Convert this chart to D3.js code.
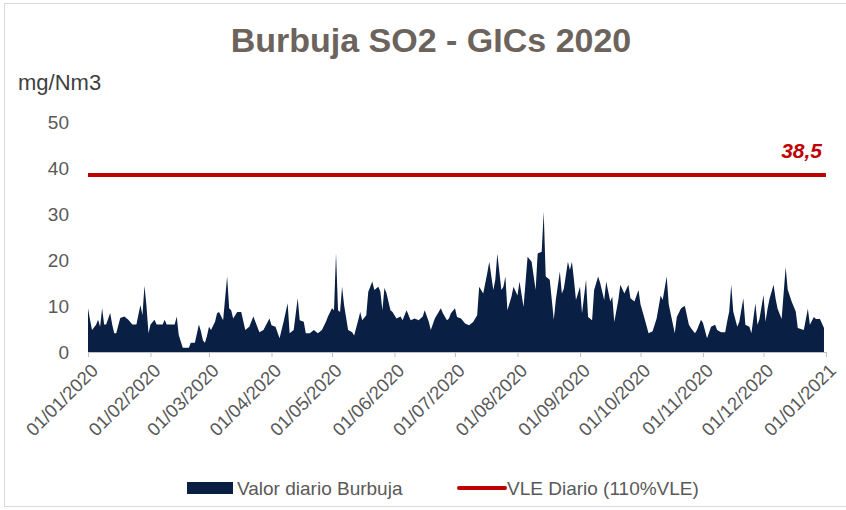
<!DOCTYPE html>
<html>
<head>
<meta charset="utf-8">
<script src="https://cdn.jsdelivr.net/npm/d3@7"></script>
<style>
  body { margin: 0; background: #fff; }
  svg { font-family: "Liberation Sans", Arial, sans-serif; }
</style>
</head>
<body>
<svg id="chart" width="846" height="510"></svg>
<script>
// dias desde el 01/01/2020 y valor diario de la burbuja (mg/Nm3)
const dias = [0,1,2,4,5,6,7,8,9,11,12,13,14,16,18,20,22,24,26,27,28,29,30,31,33,34,37,38,39,43,44,45,47,50,51,53,55,56,57,58,59,60,61,63,64,65,67,69,70,71,72,74,76,78,80,82,83,85,87,90,91,93,95,97,99,100,102,104,105,107,108,110,112,114,116,118,119,121,122,123,124,125,126,127,129,131,132,134,135,136,138,139,141,142,144,145,146,147,148,150,151,153,155,156,158,160,162,164,166,167,169,170,172,175,176,178,179,180,182,183,185,187,189,191,193,194,196,198,199,201,202,203,205,206,207,208,210,211,213,214,216,218,220,222,223,225,226,227,229,231,232,234,235,236,238,239,240,241,242,244,245,247,248,250,251,253,254,256,257,259,260,261,263,264,266,268,269,271,273,274,276,278,280,282,284,285,287,288,291,292,294,295,296,298,299,301,302,304,305,307,309,311,312,314,316,317,318,319,320,322,323,325,326,328,329,331,332,333,335,336,337,338,340,341,342,344,346,347,349,351,352,355,357,358,360,361,363,365];
const valores = [9.5,7.0,4.8,5.9,7.0,5.5,9.5,6.0,6.0,8.5,6.0,4.1,4.1,7.4,7.7,7.0,6.0,6.0,10.2,8.0,14.4,10.0,4.1,6.0,7.0,6.0,6.0,7.0,6.0,6.0,7.7,3.7,0.9,0.9,2.0,2.0,6.0,4.5,2.5,2.0,3.5,5.5,4.8,6.6,8.4,8.7,6.9,16.4,9.5,9.1,7.3,8.7,8.7,4.8,5.5,7.7,6.6,4.3,4.8,7.3,5.8,5.5,3.0,6.6,10.6,4.1,4.8,11.7,6.9,6.6,4.1,4.1,4.8,4.1,4.8,6.6,7.7,9.5,9.1,21.5,9.1,8.7,14.2,10.2,4.8,4.3,3.6,6.9,8.7,6.9,8.0,13.1,15.3,13.5,14.2,13.1,9.1,13.9,12.8,9.1,8.7,7.3,7.7,6.9,9.1,6.9,7.3,6.9,7.7,9.1,6.6,4.8,7.3,9.5,8.4,6.9,7.3,8.4,9.5,7.6,7.3,6.2,5.8,6.5,8.0,14.2,12.7,17.1,19.6,13.5,15.7,21.4,13.5,14.2,16.4,9.1,12.0,14.2,12.3,15.3,9.8,20.7,19.6,13.5,21.4,21.8,30.5,16.4,15.7,7.0,11.3,17.5,12.7,13.8,19.6,17.8,19.6,15.7,11.3,14.2,8.4,15.7,7.6,6.9,13.5,16.4,15.0,11.3,15.3,11.0,12.0,6.5,11.3,14.6,12.7,14.6,11.7,11.0,13.5,10.4,7.3,4.1,4.5,7.3,12.3,11.3,16.4,10.4,4.1,7.6,9.4,9.8,10.0,5.9,5.2,4.1,4.8,7.0,6.3,3.0,5.5,5.9,4.8,4.3,4.3,6.7,8.8,14.6,8.8,5.5,6.6,11.7,5.9,5.5,4.1,10.6,5.9,7.2,12.4,6.6,9.4,11.6,14.6,11.6,9.4,7.2,18.5,13.6,10.9,8.8,5.2,4.8,9.4,5.9,7.6,7.2,7.2,5.2];
const vle = 38.5;
const yTicks = [0, 10, 20, 30, 40, 50];
const meses = ["01/01/2020","01/02/2020","01/03/2020","01/04/2020","01/05/2020","01/06/2020","01/07/2020","01/08/2020","01/09/2020","01/10/2020","01/11/2020","01/12/2020","01/01/2021"];

const svg = d3.select("#chart");
const inicio = new Date(2020, 0, 1);
const parseFecha = d3.timeParse("%d/%m/%Y");
const data = dias.map((d, i) => ({ fecha: d3.timeDay.offset(inicio, d), valor: valores[i] }));

const x = d3.scaleTime()
    .domain([inicio, new Date(2021, 0, 1)])
    .range([88, 826]);
const y = d3.scaleLinear()
    .domain([0, 50])
    .range([352, 122]);

// marco
svg.append("rect")
    .attr("x", 4.5).attr("y", 3.5)
    .attr("width", 850).attr("height", 503)
    .attr("fill", "none").attr("stroke", "#d9d9d9");

svg.append("text")
    .attr("x", 431).attr("y", 52)
    .attr("text-anchor", "middle")
    .attr("font-size", 34).attr("font-weight", "bold")
    .attr("fill", "#6b635c")
    .text("Burbuja SO2 - GICs 2020");

svg.append("text")
    .attr("x", 18).attr("y", 90)
    .attr("font-size", 22).attr("fill", "#404040")
    .text("mg/Nm3");

// eje y (solo etiquetas)
svg.selectAll(".ytick")
    .data(yTicks)
    .join("text")
    .attr("class", "ytick")
    .attr("x", 69)
    .attr("y", d => y(d) + 7)
    .attr("text-anchor", "end")
    .attr("font-size", 19).attr("fill", "#595959")
    .text(d => d);

const area = d3.area()
    .x(d => x(d.fecha))
    .y0(y(0))
    .y1(d => y(d.valor));

svg.append("path")
    .datum(data)
    .attr("fill", "#0a1f44")
    .attr("d", area);

// eje x
const xAxis = d3.axisBottom(x)
    .tickValues(meses.map(parseFecha))
    .tickSize(5)
    .tickFormat(d3.timeFormat("%d/%m/%Y"));

const gx = svg.append("g")
    .attr("transform", `translate(0,${y(0)})`)
    .call(xAxis);
gx.select(".domain").attr("stroke", "#bfbfbf");
gx.selectAll(".tick line").attr("stroke", "#bfbfbf");
gx.selectAll(".tick text")
    .attr("font-size", 18.5)
    .attr("font-family", "Liberation Sans, Arial, sans-serif")
    .attr("fill", "#595959")
    .attr("text-anchor", "end")
    .attr("dy", null)
    .attr("transform", "translate(5,14) rotate(-45)");

// VLE diario
svg.append("line")
    .attr("x1", x.range()[0]).attr("x2", x.range()[1])
    .attr("y1", y(vle)).attr("y2", y(vle))
    .attr("stroke", "#c00000").attr("stroke-width", 4);

svg.append("text")
    .attr("x", 822).attr("y", y(vle) - 17)
    .attr("text-anchor", "end")
    .attr("font-size", 21).attr("font-weight", "bold").attr("font-style", "italic")
    .attr("fill", "#c00000")
    .text("38,5");

// leyenda
const ley = svg.append("g").attr("font-size", 19).attr("fill", "#595959");
ley.append("rect")
    .attr("x", 187).attr("y", 482).attr("width", 46).attr("height", 12)
    .attr("fill", "#0a1f44");
ley.append("text").attr("x", 237).attr("y", 495).text("Valor diario Burbuja");
ley.append("line")
    .attr("x1", 459).attr("x2", 505).attr("y1", 488).attr("y2", 488)
    .attr("stroke", "#c00000").attr("stroke-width", 4).attr("stroke-linecap", "round");
ley.append("text").attr("x", 507).attr("y", 495).text("VLE Diario (110%VLE)");
</script>
</body>
</html>
